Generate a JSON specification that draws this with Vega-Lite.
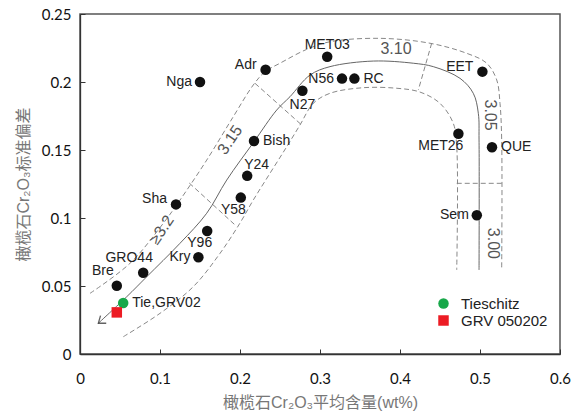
{
  "$schema": "https://vega.github.io/schema/vega-lite/v6.json",
  "width": 480,
  "height": 340,
  "autosize": {"type": "none"},
  "padding": {"left": 80, "top": 14, "right": 13, "bottom": 61},
  "background": "white",
  "config": {
    "view": {"stroke": "#555", "strokeWidth": 1.5},
    "axis": {
      "grid": false,
      "tickSize": -5,
      "domainColor": "#333",
      "domainWidth": 1.3,
      "tickColor": "#333",
      "labelFont": "Lato",
      "labelFontSize": 15,
      "labelColor": "#111",
      "labelFlush": false,
      "titleFont": "Liberation Sans, Noto Sans CJK SC",
      "titleFontSize": 16,
      "titleFontWeight": "normal",
      "titleColor": "#777"
    },
    "legend": {
      "orient": "none",
      "legendX": 356,
      "legendY": 282,
      "padding": 0,
      "symbolSize": 110,
      "symbolStrokeWidth": 0,
      "labelFont": "Liberation Sans",
      "labelFontSize": 15,
      "labelColor": "#222",
      "labelOffset": 10,
      "rowPadding": 1
    }
  },
  "datasets": {
    "pts": [
      {"label": "Nga", "x": 0.15, "y": 0.2, "kind": "black", "pos": "L"},
      {"label": "Adr", "x": 0.232, "y": 0.209, "kind": "black", "pos": "UL"},
      {"label": "MET03", "x": 0.309, "y": 0.2186, "kind": "black", "pos": "A"},
      {"label": "N27", "x": 0.278, "y": 0.1936, "kind": "black", "pos": "B"},
      {"label": "N56", "x": 0.3275, "y": 0.2025, "kind": "black", "pos": "L"},
      {"label": "RC", "x": 0.343, "y": 0.2025, "kind": "black", "pos": "R"},
      {"label": "EET", "x": 0.503, "y": 0.2076, "kind": "black", "pos": "UL"},
      {"label": "MET26", "x": 0.473, "y": 0.162, "kind": "black", "pos": "BL"},
      {"label": "QUE", "x": 0.515, "y": 0.152, "kind": "black", "pos": "R"},
      {"label": "Sem", "x": 0.496, "y": 0.102, "kind": "black", "pos": "L"},
      {"label": "Bish", "x": 0.2175, "y": 0.1566, "kind": "black", "pos": "R"},
      {"label": "Y24", "x": 0.209, "y": 0.131, "kind": "black", "pos": "AR"},
      {"label": "Y58", "x": 0.201, "y": 0.115, "kind": "black", "pos": "BL"},
      {"label": "Sha", "x": 0.12, "y": 0.11, "kind": "black", "pos": "UL"},
      {"label": "Y96", "x": 0.159, "y": 0.0904, "kind": "black", "pos": "BL"},
      {"label": "Kry", "x": 0.148, "y": 0.0711, "kind": "black", "pos": "L"},
      {"label": "GRO44", "x": 0.079, "y": 0.0598, "kind": "black", "pos": "AL"},
      {"label": "Bre", "x": 0.046, "y": 0.0502, "kind": "black", "pos": "AL"},
      {"label": "Tie,GRV02", "x": 0.054, "y": 0.0375, "kind": "Tieschitz", "pos": "R"},
      {"label": "", "x": 0.046, "y": 0.0306, "kind": "GRV 050202", "pos": "none"}
    ],
    "curves": [
      {"line": "solid", "i": 0, "x": 0.0229, "y": 0.0226},
      {"line": "solid", "i": 1, "x": 0.0584, "y": 0.0421},
      {"line": "solid", "i": 2, "x": 0.0834, "y": 0.0568},
      {"line": "solid", "i": 3, "x": 0.125, "y": 0.0814},
      {"line": "solid", "i": 4, "x": 0.1584, "y": 0.1035},
      {"line": "solid", "i": 5, "x": 0.1834, "y": 0.1279},
      {"line": "solid", "i": 6, "x": 0.2175, "y": 0.1561},
      {"line": "solid", "i": 7, "x": 0.2459, "y": 0.1794},
      {"line": "solid", "i": 8, "x": 0.2625, "y": 0.1892},
      {"line": "solid", "i": 9, "x": 0.2875, "y": 0.2051},
      {"line": "solid", "i": 10, "x": 0.3125, "y": 0.2113},
      {"line": "solid", "i": 11, "x": 0.3666, "y": 0.2154},
      {"line": "solid", "i": 12, "x": 0.4166, "y": 0.2138},
      {"line": "solid", "i": 13, "x": 0.4416, "y": 0.2113},
      {"line": "solid", "i": 14, "x": 0.475, "y": 0.2027},
      {"line": "solid", "i": 15, "x": 0.4916, "y": 0.1917},
      {"line": "solid", "i": 16, "x": 0.4979, "y": 0.177},
      {"line": "solid", "i": 17, "x": 0.4988, "y": 0.1574},
      {"line": "solid", "i": 18, "x": 0.4988, "y": 0.0618},
      {"line": "outer", "i": 0, "x": 0.0125, "y": 0.0446},
      {"line": "outer", "i": 1, "x": 0.0625, "y": 0.0667},
      {"line": "outer", "i": 2, "x": 0.1041, "y": 0.0961},
      {"line": "outer", "i": 3, "x": 0.125, "y": 0.1132},
      {"line": "outer", "i": 4, "x": 0.1584, "y": 0.1426},
      {"line": "outer", "i": 5, "x": 0.1916, "y": 0.1745},
      {"line": "outer", "i": 6, "x": 0.2166, "y": 0.1978},
      {"line": "outer", "i": 7, "x": 0.2313, "y": 0.2076},
      {"line": "outer", "i": 8, "x": 0.25, "y": 0.2138},
      {"line": "outer", "i": 9, "x": 0.2834, "y": 0.224},
      {"line": "outer", "i": 10, "x": 0.3125, "y": 0.2296},
      {"line": "outer", "i": 11, "x": 0.375, "y": 0.2321},
      {"line": "outer", "i": 12, "x": 0.4375, "y": 0.2285},
      {"line": "outer", "i": 13, "x": 0.4834, "y": 0.2211},
      {"line": "outer", "i": 14, "x": 0.5084, "y": 0.2138},
      {"line": "outer", "i": 15, "x": 0.5209, "y": 0.2015},
      {"line": "outer", "i": 16, "x": 0.525, "y": 0.1843},
      {"line": "outer", "i": 17, "x": 0.5271, "y": 0.1574},
      {"line": "outer", "i": 18, "x": 0.5271, "y": 0.0618},
      {"line": "inner", "i": 0, "x": 0.0541, "y": 0.0127},
      {"line": "inner", "i": 1, "x": 0.1, "y": 0.0299},
      {"line": "inner", "i": 2, "x": 0.1416, "y": 0.0495},
      {"line": "inner", "i": 3, "x": 0.175, "y": 0.074},
      {"line": "inner", "i": 4, "x": 0.2, "y": 0.0963},
      {"line": "inner", "i": 5, "x": 0.2166, "y": 0.1132},
      {"line": "inner", "i": 6, "x": 0.2375, "y": 0.1329},
      {"line": "inner", "i": 7, "x": 0.2584, "y": 0.1524},
      {"line": "inner", "i": 8, "x": 0.275, "y": 0.1684},
      {"line": "inner", "i": 9, "x": 0.2916, "y": 0.1843},
      {"line": "inner", "i": 10, "x": 0.3125, "y": 0.1917},
      {"line": "inner", "i": 11, "x": 0.3541, "y": 0.1958},
      {"line": "inner", "i": 12, "x": 0.3959, "y": 0.1954},
      {"line": "inner", "i": 13, "x": 0.425, "y": 0.1926},
      {"line": "inner", "i": 14, "x": 0.45, "y": 0.1843},
      {"line": "inner", "i": 15, "x": 0.4666, "y": 0.1696},
      {"line": "inner", "i": 16, "x": 0.4709, "y": 0.1524},
      {"line": "inner", "i": 17, "x": 0.4709, "y": 0.0618},
      {"line": "d1", "i": 0, "x": 0.1366, "y": 0.1257},
      {"line": "d1", "i": 1, "x": 0.1938, "y": 0.0949},
      {"line": "d2", "i": 0, "x": 0.2188, "y": 0.199},
      {"line": "d2", "i": 1, "x": 0.2771, "y": 0.1684},
      {"line": "d3", "i": 0, "x": 0.4396, "y": 0.2285},
      {"line": "d3", "i": 1, "x": 0.4229, "y": 0.1941},
      {"line": "d4", "i": 0, "x": 0.4709, "y": 0.1255},
      {"line": "d4", "i": 1, "x": 0.5271, "y": 0.1255}
    ],
    "zones": [
      {"t": "3.10", "x": 0.395, "y": 0.2243, "dir": "h"},
      {"t": "3.05", "x": 0.5125, "y": 0.1757, "dir": "v"},
      {"t": "3.00", "x": 0.5159, "y": 0.0813, "dir": "v"},
      {"t": "3.15", "x": 0.1875, "y": 0.1574, "dir": "d"},
      {"t": "≥3.2", "x": 0.1021, "y": 0.0912, "dir": "d"}
    ],
    "arrow": [{"x": 0.0229, "y": 0.0226}]
  },
  "encoding": {
    "x": {
      "field": "x",
      "type": "quantitative",
      "scale": {"domain": [0, 0.6], "nice": false, "zero": false},
      "axis": {
        "title": "橄榄石Cr₂O₃平均含量(wt%)",
        "values": [0, 0.1, 0.2, 0.3, 0.4, 0.5, 0.6],
        "format": "~g",
        "labelPadding": 22,
        "titlePadding": 8
      }
    },
    "y": {
      "field": "y",
      "type": "quantitative",
      "scale": {"domain": [0, 0.25], "nice": false, "zero": false},
      "axis": {
        "title": "橄榄石Cr₂O₃标准偏差",
        "values": [0, 0.05, 0.1, 0.15, 0.2, 0.25],
        "format": "~g",
        "labelPadding": 14,
        "titlePadding": 10
      }
    }
  },
  "layer": [
    {
      "data": {"name": "curves"},
      "transform": [{"filter": "datum.line !== 'solid'"}],
      "mark": {"type": "line", "interpolate": "catmull-rom", "color": "#888", "strokeWidth": 1, "strokeDash": [5, 3]},
      "encoding": {"detail": {"field": "line"}, "order": {"field": "i", "type": "quantitative"}}
    },
    {
      "data": {"name": "curves"},
      "transform": [{"filter": "datum.line === 'solid'"}],
      "mark": {"type": "line", "interpolate": "catmull-rom", "color": "#666", "strokeWidth": 1},
      "encoding": {"order": {"field": "i", "type": "quantitative"}}
    },
    {
      "data": {"name": "arrow"},
      "mark": {"type": "point", "shape": "M-1,-0.75L0,0L-1,0.75", "filled": false, "stroke": "#222", "strokeWidth": 1.3, "size": 160, "angle": 143}
    },
    {
      "data": {"name": "zones"},
      "transform": [{"filter": "datum.dir === 'h'"}],
      "mark": {"type": "text", "font": "Liberation Sans", "fontSize": 16, "color": "#555"},
      "encoding": {"text": {"field": "t"}}
    },
    {
      "data": {"name": "zones"},
      "transform": [{"filter": "datum.dir === 'v'"}],
      "mark": {"type": "text", "font": "Liberation Sans", "fontSize": 16, "color": "#555", "angle": 90},
      "encoding": {"text": {"field": "t"}}
    },
    {
      "data": {"name": "zones"},
      "transform": [{"filter": "datum.dir === 'd'"}],
      "mark": {"type": "text", "font": "Liberation Sans", "fontSize": 16, "color": "#555", "angle": -56},
      "encoding": {"text": {"field": "t"}}
    },
    {
      "data": {"name": "pts"},
      "transform": [{"filter": "datum.kind === 'black'"}],
      "mark": {"type": "point", "filled": true, "shape": "circle", "color": "#111", "size": 110, "opacity": 1}
    },
    {
      "data": {"name": "pts"},
      "transform": [{"filter": "datum.kind !== 'black'"}],
      "mark": {"type": "point", "filled": true, "size": 110, "opacity": 1},
      "encoding": {
        "color": {"field": "kind", "type": "nominal", "title": null, "scale": {"domain": ["Tieschitz", "GRV 050202"], "range": ["#18a84a", "#ec1c24"]}},
        "shape": {"field": "kind", "type": "nominal", "title": null, "scale": {"domain": ["Tieschitz", "GRV 050202"], "range": ["circle", "square"]}}
      }
    },
    {
      "data": {"name": "pts"},
      "transform": [{"filter": "datum.pos === 'L'"}],
      "mark": {"type": "text", "align": "right", "baseline": "middle", "dx": -8, "font": "Liberation Sans", "fontSize": 14, "color": "#222"},
      "encoding": {"text": {"field": "label"}}
    },
    {
      "data": {"name": "pts"},
      "transform": [{"filter": "datum.pos === 'UL'"}],
      "mark": {"type": "text", "align": "right", "baseline": "middle", "dx": -9, "dy": -5, "font": "Liberation Sans", "fontSize": 14, "color": "#222"},
      "encoding": {"text": {"field": "label"}}
    },
    {
      "data": {"name": "pts"},
      "transform": [{"filter": "datum.pos === 'R'"}],
      "mark": {"type": "text", "align": "left", "baseline": "middle", "dx": 9, "font": "Liberation Sans", "fontSize": 14, "color": "#222"},
      "encoding": {"text": {"field": "label"}}
    },
    {
      "data": {"name": "pts"},
      "transform": [{"filter": "datum.pos === 'A'"}],
      "mark": {"type": "text", "align": "center", "baseline": "middle", "dy": -12, "font": "Liberation Sans", "fontSize": 14, "color": "#222"},
      "encoding": {"text": {"field": "label"}}
    },
    {
      "data": {"name": "pts"},
      "transform": [{"filter": "datum.pos === 'AR'"}],
      "mark": {"type": "text", "align": "left", "baseline": "middle", "dx": -3, "dy": -11, "font": "Liberation Sans", "fontSize": 14, "color": "#222"},
      "encoding": {"text": {"field": "label"}}
    },
    {
      "data": {"name": "pts"},
      "transform": [{"filter": "datum.pos === 'AL'"}],
      "mark": {"type": "text", "align": "center", "baseline": "middle", "dx": -14, "dy": -15, "font": "Liberation Sans", "fontSize": 14, "color": "#222"},
      "encoding": {"text": {"field": "label"}}
    },
    {
      "data": {"name": "pts"},
      "transform": [{"filter": "datum.pos === 'B'"}],
      "mark": {"type": "text", "align": "center", "baseline": "middle", "dy": 14, "font": "Liberation Sans", "fontSize": 14, "color": "#222"},
      "encoding": {"text": {"field": "label"}}
    },
    {
      "data": {"name": "pts"},
      "transform": [{"filter": "datum.pos === 'BL'"}],
      "mark": {"type": "text", "align": "right", "baseline": "middle", "dx": 5, "dy": 12, "font": "Liberation Sans", "fontSize": 14, "color": "#222"},
      "encoding": {"text": {"field": "label"}}
    }
  ]
}
